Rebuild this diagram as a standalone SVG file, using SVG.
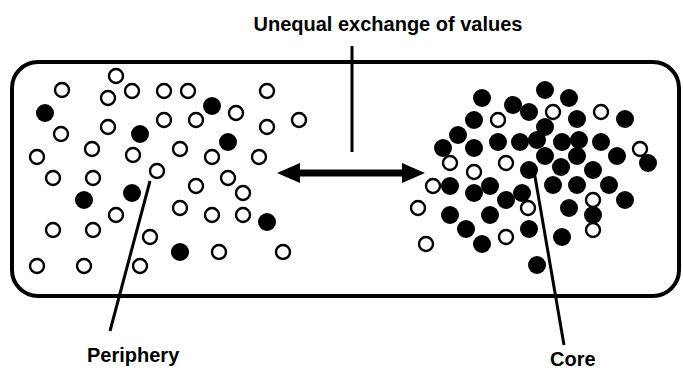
<svg xmlns="http://www.w3.org/2000/svg" width="683" height="371" viewBox="0 0 683 371">
<style>
.lbl{font-family:"Liberation Sans",Arial,sans-serif;font-weight:bold;font-size:20px;fill:#000}
.o{fill:#fff;stroke:#000;stroke-width:2.4}
.f{fill:#000}
.ln{stroke:#000;stroke-width:3;fill:none}
</style>
<defs>
<circle id="oc" r="7" class="o"/>
<circle id="fc" r="9" class="f"/>
</defs>
<rect width="683" height="371" fill="#fff"/>
<g id="world-box">
<rect x="12" y="62" width="667" height="234" rx="26" ry="26" fill="none" stroke="#000" stroke-width="4"/>
</g>
<g id="periphery-cluster">
<use href="#fc" x="45" y="113"/><use href="#fc" x="212" y="106"/><use href="#fc" x="140" y="134"/><use href="#fc" x="228" y="142"/>
<use href="#fc" x="84" y="200"/><use href="#fc" x="132" y="193"/><use href="#fc" x="267" y="222"/><use href="#fc" x="180" y="252"/>
<use href="#oc" x="116" y="76"/><use href="#oc" x="62" y="90"/><use href="#oc" x="108" y="98"/><use href="#oc" x="132" y="91"/>
<use href="#oc" x="164" y="91"/><use href="#oc" x="188" y="91"/><use href="#oc" x="267" y="91"/><use href="#oc" x="236" y="113"/>
<use href="#oc" x="61" y="134"/><use href="#oc" x="108" y="127"/><use href="#oc" x="164" y="120"/><use href="#oc" x="196" y="120"/>
<use href="#oc" x="267" y="127"/><use href="#oc" x="299" y="120"/><use href="#oc" x="92" y="149"/><use href="#oc" x="37" y="157"/>
<use href="#oc" x="133" y="155"/><use href="#oc" x="180" y="149"/><use href="#oc" x="212" y="157"/><use href="#oc" x="259" y="157"/>
<use href="#oc" x="157" y="171"/><use href="#oc" x="53" y="178"/><use href="#oc" x="93" y="178"/><use href="#oc" x="228" y="178"/>
<use href="#oc" x="196" y="186"/><use href="#oc" x="243" y="193"/><use href="#oc" x="116" y="215"/><use href="#oc" x="180" y="208"/>
<use href="#oc" x="212" y="215"/><use href="#oc" x="243" y="215"/><use href="#oc" x="53" y="230"/><use href="#oc" x="93" y="230"/>
<use href="#oc" x="150" y="237"/><use href="#oc" x="37" y="266"/><use href="#oc" x="84" y="266"/><use href="#oc" x="140" y="266"/>
<use href="#oc" x="219" y="252"/><use href="#oc" x="283" y="252"/>
</g>
<g id="core-cluster">
<use href="#fc" x="545" y="90"/><use href="#fc" x="482" y="98"/><use href="#fc" x="513" y="105"/><use href="#fc" x="569" y="98"/>
<use href="#fc" x="529" y="112"/><use href="#fc" x="474" y="120"/><use href="#fc" x="577" y="119"/><use href="#fc" x="625" y="119"/>
<use href="#fc" x="545" y="127"/><use href="#fc" x="458" y="135"/><use href="#fc" x="498" y="142"/><use href="#fc" x="520" y="142"/>
<use href="#fc" x="537" y="140"/><use href="#fc" x="562" y="142"/><use href="#fc" x="579" y="140"/><use href="#fc" x="601" y="142"/>
<use href="#fc" x="443" y="148"/><use href="#fc" x="474" y="148"/><use href="#fc" x="545" y="156"/><use href="#fc" x="577" y="156"/>
<use href="#fc" x="617" y="156"/><use href="#fc" x="648" y="163"/><use href="#fc" x="561" y="167"/><use href="#fc" x="529" y="170"/>
<use href="#fc" x="593" y="170"/><use href="#fc" x="450" y="186"/><use href="#fc" x="490" y="186"/><use href="#fc" x="553" y="185"/>
<use href="#fc" x="577" y="185"/><use href="#fc" x="609" y="185"/><use href="#fc" x="474" y="193"/><use href="#fc" x="522" y="193"/>
<use href="#fc" x="506" y="200"/><use href="#fc" x="625" y="200"/><use href="#fc" x="450" y="215"/><use href="#fc" x="490" y="215"/>
<use href="#fc" x="569" y="208"/><use href="#fc" x="593" y="215"/><use href="#fc" x="466" y="229"/><use href="#fc" x="529" y="229"/>
<use href="#fc" x="562" y="237"/><use href="#fc" x="482" y="244"/><use href="#fc" x="537" y="265"/>
<use href="#oc" x="498" y="120"/><use href="#oc" x="553" y="112"/><use href="#oc" x="601" y="112"/><use href="#oc" x="640" y="149"/>
<use href="#oc" x="450" y="163"/><use href="#oc" x="474" y="172"/><use href="#oc" x="506" y="163"/><use href="#oc" x="433" y="186"/>
<use href="#oc" x="418" y="208"/><use href="#oc" x="528" y="208"/><use href="#oc" x="593" y="200"/><use href="#oc" x="593" y="230"/>
<use href="#oc" x="506" y="237"/><use href="#oc" x="426" y="244"/>
</g>
<g id="connectors">
<line class="ln" x1="352" y1="46" x2="352" y2="152"/>
<polygon points="277,173 300,163 300,169.5 402,169.5 402,163 425,173 402,183 402,176.5 300,176.5 300,183" fill="#000"/>
<line class="ln" x1="150" y1="181" x2="110" y2="331"/>
<line class="ln" x1="533" y1="165" x2="564" y2="345"/>
</g>
<g id="title"><text class="lbl" x="388" y="31" text-anchor="middle">Unequal exchange of values</text></g>
<g id="periphery-label"><text class="lbl" x="87" y="362">Periphery</text></g>
<g id="core-label"><text class="lbl" x="550" y="366">Core</text></g>
</svg>
